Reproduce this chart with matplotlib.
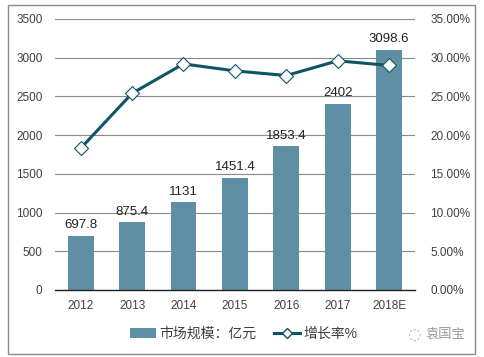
import matplotlib
matplotlib.use("Agg")
import matplotlib.pyplot as plt
from matplotlib.patches import Rectangle
from matplotlib.lines import Line2D
from matplotlib.patches import Patch

plt.rcParams['font.family'] = ['Liberation Sans', 'Noto Sans CJK SC', 'DejaVu Sans']

years = ["2012", "2013", "2014", "2015", "2016", "2017", "2018E"]
market_size = [697.8, 875.4, 1131, 1451.4, 1853.4, 2402, 3098.6]
growth_rate = [18.3, 25.4, 29.2, 28.3, 27.7, 29.6, 29.0]
left_ticks = [0, 500, 1000, 1500, 2000, 2500, 3000, 3500]
right_ticks = [0, 5, 10, 15, 20, 25, 30, 35]

bar_color = "#5f8fa5"
line_color = "#0d5565"
text_color = "#404040"

fig = plt.figure(figsize=(4.84, 3.57), dpi=100)
ax = fig.add_axes([0.1136, 0.1877, 0.7434, 0.7591])

x = list(range(len(years)))
ax.bar(x, market_size, width=0.5, color=bar_color, zorder=2)
for xi, v in zip(x, market_size):
    ax.text(xi, v + 60, f"{v:g}", ha="center", va="bottom", fontsize=9.5, color="#222222")

ax.set_xlim(-0.5, len(years) - 0.5)
ax.set_ylim(0, 3500)
ax.set_yticks(left_ticks)
ax.set_yticklabels([str(t) for t in left_ticks])
ax.set_xticks(x)
ax.set_xticklabels(years)
ax.grid(axis="y", color="#8a8a8a", linewidth=0.8, zorder=0)
for s in ["top", "right", "left"]:
    ax.spines[s].set_visible(False)
ax.spines["bottom"].set_color("#222222")
ax.spines["bottom"].set_linewidth(1.0)
ax.tick_params(axis="both", length=0, labelsize=8.5, colors=text_color)
ax.tick_params(axis="x", pad=7)
ax.tick_params(axis="y", pad=9)

ax2 = ax.twinx()
ax2.plot(x, growth_rate, color=line_color, linewidth=2.2, marker="D", markersize=7,
         markerfacecolor="white", markeredgecolor=line_color, markeredgewidth=0.8, zorder=3)
ax2.set_ylim(0, 35)
ax2.set_yticks(right_ticks)
ax2.set_yticklabels([f"{t:.2f}%" for t in right_ticks])
for s in ["top", "right", "left", "bottom"]:
    ax2.spines[s].set_visible(False)
ax2.tick_params(axis="y", length=0, labelsize=8.5, colors=text_color, pad=11)

handles = [Patch(facecolor=bar_color, edgecolor="none"),
           Line2D([0], [0], color=line_color, linewidth=2.2, marker="D", markersize=5,
                  markerfacecolor="white", markeredgecolor=line_color)]
fig.legend(handles, ["市场规模：亿元", "增长率%"], loc="center", bbox_to_anchor=(0.503, 0.064),
           ncol=2, frameon=False, fontsize=10, handlelength=1.9, columnspacing=1.3,
           handletextpad=0.2, labelcolor=text_color)

fig.text(0.855, 0.064, "◌", ha="center", va="center", fontsize=11, color="#b0b0b0",
         family="DejaVu Sans")
fig.text(0.92, 0.064, "袁国宝", ha="center", va="center", fontsize=9.5, color="#9a9a9a")

fig.patches.append(Rectangle((0.017, 0.008), 0.965, 0.978, transform=fig.transFigure,
                             fill=False, edgecolor="#8a8a8a", linewidth=1.0))

fig.savefig("out.png", dpi=100)
